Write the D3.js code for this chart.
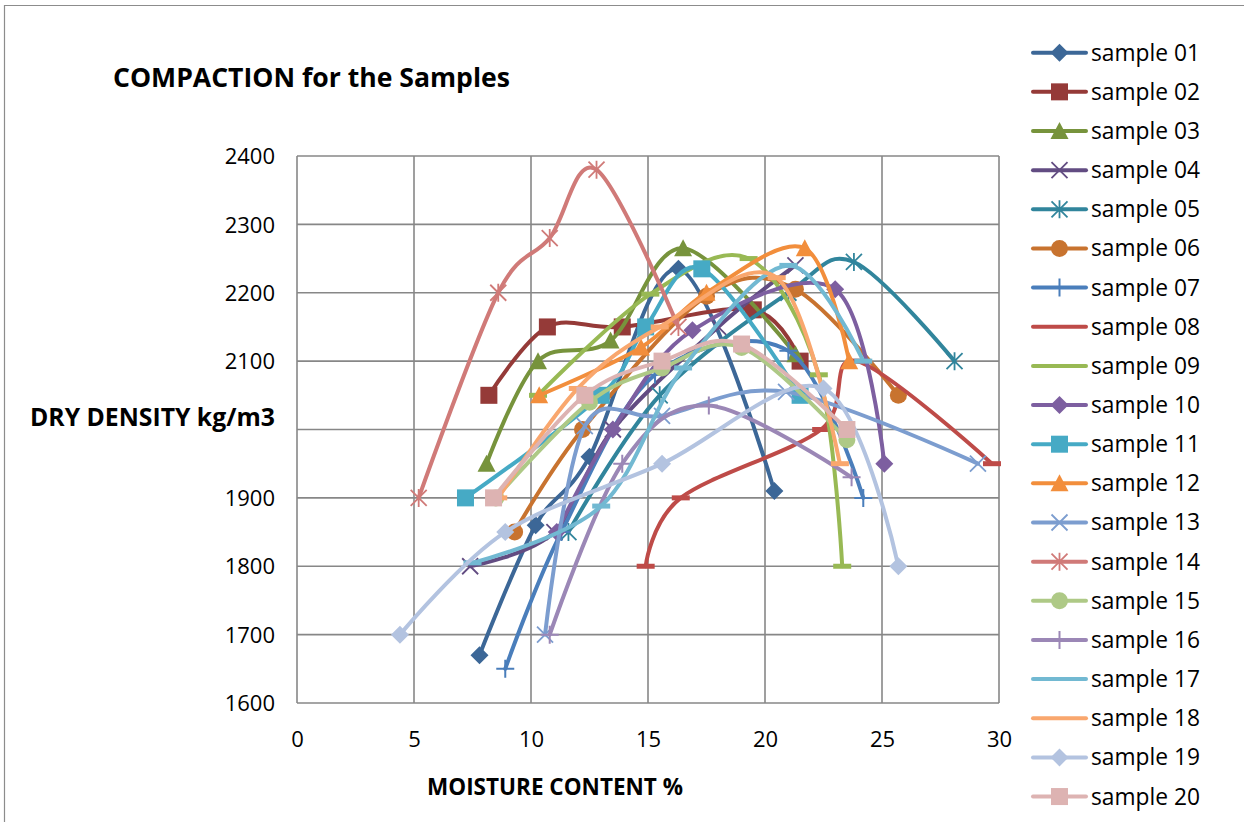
<!DOCTYPE html>
<html><head><meta charset="utf-8">
<script src="https://cdn.jsdelivr.net/npm/d3@7"></script>
<style>html,body{margin:0;padding:0;background:#fff;}svg{display:block;}</style>
</head><body>
<svg id="chart" width="1244" height="822"></svg>
<script>
// ---- data ----
const seriesNames = ["sample 01","sample 02","sample 03","sample 04","sample 05","sample 06","sample 07","sample 08","sample 09","sample 10",
  "sample 11","sample 12","sample 13","sample 14","sample 15","sample 16","sample 17","sample 18","sample 19","sample 20"];
const s01x = [7.8,10.2,12.5,16.3,20.4],        s01y = [1670,1860,1960,2235,1910];
const s02x = [8.2,10.7,13.9,19.5,21.5],        s02y = [2050,2150,2150,2175,2100];
const s03x = [8.1,10.3,13.4,16.5,21.3],        s03y = [1950,2100,2130,2265,2110];
const s04x = [7.4,11.0,13.5,18.0,21.3],        s04y = [1800,1850,2000,2150,2240];
const s05x = [11.6,15.5,21.0,23.8,28.1],       s05y = [1850,2050,2200,2245,2100];
const s06x = [9.3,12.2,17.5,21.3,25.7],        s06y = [1850,2000,2195,2205,2050];
const s07x = [8.9,11.3,15.3,21.0,24.2],        s07y = [1650,1850,2080,2115,1900];
const s08x = [14.9,16.4,22.4,23.9,29.7],       s08y = [1800,1900,2000,2100,1950];
const s09x = [10.3,15.1,19.3,22.3,23.3],       s09y = [2050,2198,2250,2080,1800];
const s10x = [11.1,13.5,16.9,23.0,25.1],       s10y = [1850,2000,2145,2205,1950];
const s11x = [7.2,13.0,14.9,17.3,21.5],        s11y = [1900,2050,2150,2235,2050];
const s12x = [10.35,14.7,17.5,21.7,23.6],      s12y = [2050,2120,2200,2265,2100];
const s13x = [10.6,12.3,15.6,20.9,29.1],       s13y = [1700,2005,2020,2055,1950];
const s14x = [5.2,8.6,10.8,12.8,16.3],         s14y = [1900,2200,2280,2380,2150];
const s15x = [8.5,12.5,15.6,19.0,23.5],        s15y = [1900,2040,2090,2120,1985];
const s16x = [10.8,13.9,17.6,23.7],            s16y = [1700,1950,2035,1930];
const s17x = [7.5,13.0,16.5,21.0,24.2],        s17y = [1805,1888,2090,2240,2100];
const s18x = [8.6,12.0,15.5,20.5,23.2],        s18y = [1900,2060,2150,2222,1950];
const s19x = [4.4,8.9,15.6,22.5,25.7],         s19y = [1700,1850,1950,2060,1800];
const s20x = [8.4,12.3,15.6,19.0,23.5],        s20y = [1900,2050,2100,2125,2000];
const xTicks = [0,5,10,15,20,25,30];
const yTicks = [1600,1700,1800,1900,2000,2100,2200,2300,2400];
const colors = ["#3C6797","#953A38","#77933C","#624C82","#31859C","#C8732F","#4A7EBB","#BE4B48","#98B954","#7D5FA0",
  "#46AAC5","#F28E3C","#7C9DCF","#D07A78","#AEC986","#9B87B6","#72B9D2","#F9A76E","#B3C3E0","#DDB3B2"];
const markers = ["diamond","square","triangle","x","star","circle","plus","dash","dash","diamond",
  "square","triangle","x","star","circle","plus","dash","dash","diamond","square"];
const title = "COMPACTION for the Samples";
const xTitle = "MOISTURE CONTENT %";
const yTitle = "DRY DENSITY kg/m3";

const xs = [s01x,s02x,s03x,s04x,s05x,s06x,s07x,s08x,s09x,s10x,s11x,s12x,s13x,s14x,s15x,s16x,s17x,s18x,s19x,s20x];
const ys = [s01y,s02y,s03y,s04y,s05y,s06y,s07y,s08y,s09y,s10y,s11y,s12y,s13y,s14y,s15y,s16y,s17y,s18y,s19y,s20y];
const series = seriesNames.map((n,i)=>({name:n,color:colors[i],marker:markers[i],pts:xs[i].map((x,j)=>({x:x,y:ys[i][j]}))}));

// ---- layout ----
const svg = d3.select("#chart");
const FONT = "'Open Sans', 'Liberation Sans', sans-serif";
const plot = {l:297, r:999, t:156, b:703};
const x = d3.scaleLinear().domain([0,30]).range([plot.l, plot.r]);
const y = d3.scaleLinear().domain([1600,2400]).range([plot.b, plot.t]);
const grid = "#878787";

// outer chart border
svg.append("path").attr("d","M4.5,900 V5.5 H1300").attr("fill","none").attr("stroke","#8c8c8c").attr("stroke-width",1.2);

function fitText(sel, target){
  const w = sel.node().getComputedTextLength();
  const fs = parseFloat(sel.attr("font-size"));
  sel.attr("font-size", fs*target/w);
  return sel;
}

// title
fitText(svg.append("text").attr("x",113).attr("y",78).attr("dy","0.35em").attr("font-family",FONT)
  .attr("font-weight","bold").attr("font-size",24).attr("fill","#000").text(title), 397);

// grid
const g = svg.append("g");
g.selectAll("line.gx").data(xTicks).join("line").attr("class","gx")
  .attr("x1",d=>x(d)).attr("x2",d=>x(d)).attr("y1",plot.t).attr("y2",plot.b)
  .attr("stroke",grid).attr("stroke-width",1.6);
g.selectAll("line.gy").data(yTicks).join("line").attr("class","gy")
  .attr("x1",plot.l).attr("x2",plot.r).attr("y1",d=>y(d)).attr("y2",d=>y(d))
  .attr("stroke",grid).attr("stroke-width",1.6);

// axis titles first (to know where the y title sits)
fitText(svg.append("text").attr("x",555).attr("y",787).attr("dy","0.35em").attr("text-anchor","middle")
  .attr("font-family",FONT).attr("font-weight","bold").attr("font-size",20).attr("fill","#000").text(xTitle), 256);
const yt = svg.append("text").attr("x",30).attr("y",417).attr("dy","0.35em")
  .attr("font-family",FONT).attr("font-weight","bold").attr("font-size",20).attr("fill","#000").text(yTitle);
fitText(yt,245);
const bb = yt.node().getBBox();

// axes (labels only; lines handled by grid). Labels hidden by the title box (as in Excel) are skipped.
const xAxis = svg.append("g").attr("transform",`translate(0,${plot.b})`)
  .call(d3.axisBottom(x).tickValues(xTicks).tickFormat(d3.format("d")).tickSize(0).tickPadding(14));
const yLabelTicks = yTicks.filter(v => Math.abs(y(v) - (bb.y + bb.height/2)) > 16);
const yAxis = svg.append("g").attr("transform",`translate(${plot.l},0)`)
  .call(d3.axisLeft(y).tickValues(yLabelTicks).tickFormat(d3.format("d")).tickSize(0).tickPadding(22));
[xAxis,yAxis].forEach(a=>{
  a.select(".domain").remove();
  a.selectAll("text").attr("font-family",FONT).attr("font-size",22).attr("fill","#000");
});
xAxis.selectAll("text").attr("y",36).attr("dy","0.35em");
yAxis.selectAll("text").attr("dy","0.35em");

// marker drawing
function drawMarker(sel, type, color){
  const s = 9;
  switch(type){
    case "diamond": sel.append("path").attr("d",`M0,${-s}L${s},0L0,${s}L${-s},0Z`).attr("fill",color); break;
    case "square": sel.append("rect").attr("x",-8.5).attr("y",-8.5).attr("width",17).attr("height",17).attr("fill",color); break;
    case "triangle": sel.append("path").attr("d","M0,-9L9,8L-9,8Z").attr("fill",color); break;
    case "circle": sel.append("circle").attr("r",8.5).attr("fill",color); break;
    case "x": sel.append("path").attr("d","M-8,-8L8,8M-8,8L8,-8").attr("stroke",color).attr("stroke-width",1.8).attr("fill","none"); break;
    case "star": sel.append("path").attr("d","M-8,-8L8,8M-8,8L8,-8M0,-9V9").attr("stroke",color).attr("stroke-width",1.8).attr("fill","none"); break;
    case "plus": sel.append("path").attr("d","M-9,0H9M0,-9V9").attr("stroke",color).attr("stroke-width",2).attr("fill","none"); break;
    case "dash": sel.append("rect").attr("x",-9).attr("y",-2.5).attr("width",18).attr("height",5).attr("fill",color); break;
  }
}

const line = d3.line().x(d=>x(d.x)).y(d=>y(d.y)).curve(d3.curveCardinal.tension(0));
const sg = svg.append("g");
series.forEach(s=>{
  const gs = sg.append("g");
  gs.append("path").attr("d",line(s.pts)).attr("fill","none").attr("stroke",s.color)
    .attr("stroke-width",4).attr("stroke-linejoin","round").attr("stroke-linecap","round");
  s.pts.forEach(p=>{
    drawMarker(gs.append("g").attr("transform",`translate(${x(p.x)},${y(p.y)})`), s.marker, s.color);
  });
});

// legend
const lg = svg.append("g");
series.forEach((s,i)=>{
  const cy = 52.7 + i*39.15;
  const row = lg.append("g");
  row.append("line").attr("x1",1033).attr("x2",1086).attr("y1",cy).attr("y2",cy)
    .attr("stroke",s.color).attr("stroke-width",4).attr("stroke-linecap","round");
  drawMarker(row.append("g").attr("transform",`translate(1059.5,${cy})`), s.marker==="dash"?"none":s.marker, s.color);
  const t = row.append("text").attr("x",1091).attr("y",cy).attr("dy","0.35em").attr("font-family",FONT)
    .attr("font-size",22).attr("fill","#000").text(s.name);
  fitText(t,109);
});
</script>
</body></html>
